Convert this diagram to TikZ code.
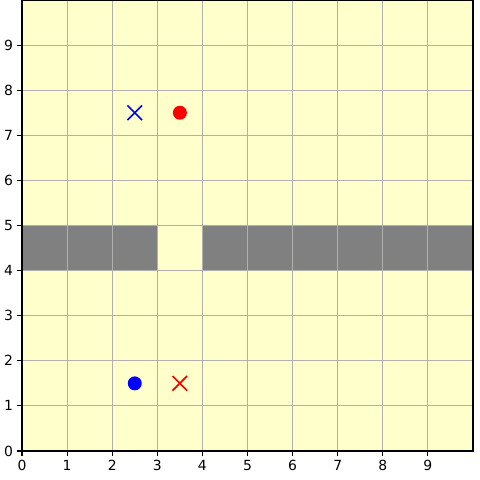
\documentclass[tikz,border=0pt]{standalone}
\usepackage{fontspec}
\setmainfont{DejaVu Sans}
\definecolor{bgyellow}{HTML}{FFFFCC}
\definecolor{gridgray}{HTML}{B0B0B0}
\definecolor{wallgray}{HTML}{808080}
\begin{document}
\begin{tikzpicture}[x=1cm,y=1cm,
  gridline/.style={draw=gridgray,line width=0.7pt},
  wall/.style={fill=wallgray,draw=none},
  dotmark/.style={circle,inner sep=0pt,minimum size=0.31cm,draw=none},
  crossmark/.style={inner sep=0pt,minimum size=0.31cm},
  ticklab/.style={font=\fontsize{8.8}{10}\selectfont,inner sep=0pt}]
\useasboundingbox (-0.488,-0.643) rectangle (10.155,10);
\fill[bgyellow] (0,0) rectangle (10,10);
\fill[wall] (0,4) rectangle (3,5);
\fill[wall] (4,4) rectangle (10,5);
\foreach \i in {1,...,9} {
  \draw[gridline] (\i,0) -- (\i,10);
  \draw[gridline] (0,\i) -- (10,\i);
}
\draw[black,line width=0.7pt] (0,0) rectangle (10,10);
\foreach \i in {0,...,9} {
  \draw[black,line width=0.7pt] (\i,0) -- (\i,-0.108);
  \node[ticklab,anchor=north] (xl\i) at (\i,-0.2) {\i};
  \draw[black,line width=0.7pt] (0,\i) -- (-0.108,\i);
  \node[ticklab,anchor=east] (yl\i) at (-0.19,\i) {\i};
}
\node[dotmark,fill=red] (reddot) at (3.5,7.5) {};
\node[dotmark,fill=blue] (bluedot) at (2.5,1.5) {};
\node[crossmark] (bluex) at (2.5,7.5) {};
\draw[blue,line width=1.1pt] (bluex.north west) -- (bluex.south east) (bluex.north east) -- (bluex.south west);
\node[crossmark] (redx) at (3.5,1.5) {};
\draw[red,line width=1.1pt] (redx.north west) -- (redx.south east) (redx.north east) -- (redx.south west);
\end{tikzpicture}
\end{document}
